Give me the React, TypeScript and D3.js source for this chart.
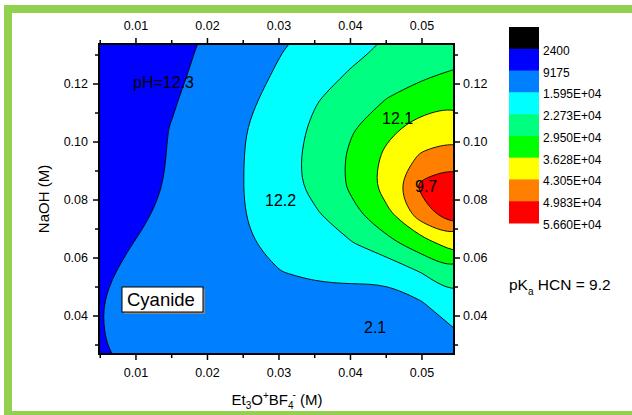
import React, { useMemo } from 'react';
import * as d3 from 'd3';

// grid: columns = Et3O+BF4- (M), rows = NaOH (M), top row first
const xGrid = [0.005, 0.01, 0.015, 0.02, 0.025, 0.03, 0.035, 0.04, 0.045, 0.05, 0.055];
const yGrid = [0.135, 0.125, 0.115, 0.105, 0.095, 0.085, 0.075, 0.065, 0.055, 0.045, 0.035, 0.025];
const zRows = [
  [6000, 7200, 8000, 9600, 12550, 15200, 17680, 20500, 22900, 25100, 26000],
  [6000, 7000, 8000, 10400, 13500, 16400, 19640, 22830, 25180, 27530, 29700],
  [6200, 7300, 8600, 11580, 14300, 18150, 22190, 25870, 29480, 33070, 34900],
  [6300, 7500, 9350, 12500, 15550, 19450, 23690, 28730, 34510, 38770, 40670],
  [6400, 7700, 9450, 12760, 15850, 19920, 24530, 30430, 37650, 44100, 46000],
  [6500, 7900, 9600, 12960, 15930, 19860, 24350, 30430, 39000, 51500, 57000],
  [6500, 8000, 10710, 13230, 15760, 18930, 21900, 27370, 34380, 47000, 55000],
  [7000, 9390, 11330, 13270, 15210, 17470, 19500, 22200, 27240, 33360, 40000],
  [8400, 10300, 11470, 12850, 14230, 15800, 16800, 17590, 17500, 22900, 29030],
  [9000, 11000, 11500, 12500, 13500, 14000, 14040, 13500, 13500, 15900, 21280],
  [9000, 11000, 11300, 12000, 12800, 13000, 13500, 13500, 13300, 14000, 16000],
  [8400, 10800, 10800, 11500, 12300, 12500, 13000, 13200, 13000, 13500, 14000],
];

const levels = [2400, 9175, 15950, 22730, 29500, 36280, 43050, 49830, 56600];
const levelLabels = ['2400', '9175', '1.595E+04', '2.273E+04', '2.950E+04', '3.628E+04', '4.305E+04', '4.983E+04', '5.660E+04'];
const levelColors = ['#000000', '#0000FF', '#0080FF', '#00FFFF', '#00FF80', '#00FF00', '#FFFF00', '#FF8000', '#FF0000'];

const xTicks = [0.01, 0.02, 0.03, 0.04, 0.05];
const xMinor = [0.005, 0.015, 0.025, 0.035, 0.045];
const yTicks = [0.04, 0.06, 0.08, 0.10, 0.12];
const yMinor = [0.03, 0.05, 0.07, 0.09, 0.11, 0.13];

const font = '"Liberation Sans", Arial, sans-serif';

export default function App() {
  const W = 632, H = 415;
  const left = 99, right = 454, top = 44, bottom = 354;
  const x = d3.scaleLinear().domain([0.00483, 0.05448]).range([left, right]);
  const y = d3.scaleLinear().domain([0.0269, 0.1338]).range([bottom, top]);

  const paths = useMemo(() => {
    const n = xGrid.length, m = yGrid.length;
    const values = zRows.flat();
    const dx = xGrid[1] - xGrid[0];
    const dy = yGrid[0] - yGrid[1];
    // grid coord c -> sample index c - 0.5
    const gx = c => x(xGrid[0] + (c - 0.5) * dx);
    const gy = c => y(yGrid[0] - (c - 0.5) * dy);
    const line = d3.line().curve(d3.curveBasisClosed);
    const contours = d3.contours().size([n, m]).thresholds(levels.slice(0, 8))(values);
    return contours.map((c, i) => {
      let d = '';
      c.coordinates.forEach(poly => {
        poly.forEach(ring => {
          const pts = ring.slice(0, -1).map(p => [gx(p[0]), gy(p[1])]);
          d += line(pts);
        });
      });
      return { d, color: levelColors[i + 1] };
    });
  }, []);

  const ly = d3.scaleLinear().domain([0, 9]).range([27, 223]);

  return (
    <svg width={W} height={H} style={{ position: 'absolute', left: 0, top: 0, background: '#fff' }} fontFamily={font}>
      <rect x={8} y={9} width={660} height={406} fill="none" stroke="#92D050" strokeWidth={8} />
      <defs>
        <clipPath id="plotClip">
          <rect x={left} y={top} width={right - left} height={bottom - top} />
        </clipPath>
      </defs>
      <g clipPath="url(#plotClip)">
        {paths.map((p, i) => (
          <path key={i} d={p.d} fill={p.color} fillRule="evenodd" stroke="#000" strokeWidth={0.9} />
        ))}
      </g>

      {/* labels inside */}
      <g fontSize={16} fill="#000">
        <text x={133} y={88}>pH=12.3</text>
        <text x={382} y={124}>12.1</text>
        <text x={265} y={206}>12.2</text>
        <text x={415} y={192}>9.7</text>
        <text x={364} y={333}>2.1</text>
      </g>
      <rect x={124} y={289} width={81} height={25} fill="#888" />
      <rect x={122} y={287} width={81} height={25} fill="#fff" stroke="#000" strokeWidth={1} />
      <text x={127} y={306} fontSize={18.5}>Cyanide</text>

      {/* frame */}
      <rect x={left} y={top} width={right - left} height={bottom - top} fill="none" stroke="#000" strokeWidth={2} />

      {/* ticks on all four sides */}
      <g stroke="#000" strokeWidth={1.5}>
        {xTicks.map(t => (
          <g key={'xt' + t}>
            <line x1={x(t)} x2={x(t)} y1={bottom} y2={bottom + 6} />
            <line x1={x(t)} x2={x(t)} y1={top} y2={top - 6} />
          </g>
        ))}
        {xMinor.map(t => (
          <g key={'xm' + t}>
            <line x1={x(t)} x2={x(t)} y1={bottom} y2={bottom + 4} />
            <line x1={x(t)} x2={x(t)} y1={top} y2={top - 4} />
          </g>
        ))}
        {yTicks.map(t => (
          <g key={'yt' + t}>
            <line x1={left} x2={left - 6} y1={y(t)} y2={y(t)} />
            <line x1={right} x2={right + 6} y1={y(t)} y2={y(t)} />
          </g>
        ))}
        {yMinor.map(t => (
          <g key={'ym' + t}>
            <line x1={left} x2={left - 4} y1={y(t)} y2={y(t)} />
            <line x1={right} x2={right + 4} y1={y(t)} y2={y(t)} />
          </g>
        ))}
      </g>
      <g fontSize={12.5} fill="#000">
        {xTicks.map(t => (
          <g key={'xl' + t}>
            <text x={x(t)} y={377} textAnchor="middle">{t.toFixed(2)}</text>
            <text x={x(t)} y={30} textAnchor="middle">{t.toFixed(2)}</text>
          </g>
        ))}
        {yTicks.map(t => (
          <g key={'yl' + t}>
            <text x={88} y={y(t)} textAnchor="end" dominantBaseline="central">{t.toFixed(2)}</text>
            <text x={463} y={y(t)} textAnchor="start" dominantBaseline="central">{t.toFixed(2)}</text>
          </g>
        ))}
      </g>

      {/* axis titles */}
      <text x={277} y={405} textAnchor="middle" fontSize={15}>
        Et<tspan fontSize={10} dy={4}>3</tspan>
        <tspan dy={-4}>O</tspan>
        <tspan fontSize={10} dy={-6}>+</tspan>
        <tspan dy={6}>BF</tspan>
        <tspan fontSize={10} dy={4}>4</tspan>
        <tspan fontSize={10} dy={-11} dx={-1}>-</tspan>
        <tspan dy={7}> (M)</tspan>
      </text>
      <text transform="translate(49,199) rotate(-90)" textAnchor="middle" fontSize={15}>NaOH (M)</text>

      {/* legend */}
      {levelColors.map((c, i) => (
        <rect key={'lb' + i} x={509} y={ly(i)} width={30} height={ly(i + 1) - ly(i) + 0.5} fill={c} />
      ))}
      {levelLabels.map((l, i) => (
        <text key={'ll' + i} x={543} y={ly(i + 1) + 2} fontSize={12} dominantBaseline="central">{l}</text>
      ))}

      <text x={509} y={290} fontSize={15.5}>
        pK<tspan fontSize={10} dy={5}>a</tspan>
        <tspan dy={-5}> HCN = 9.2</tspan>
      </text>
    </svg>
  );
}
